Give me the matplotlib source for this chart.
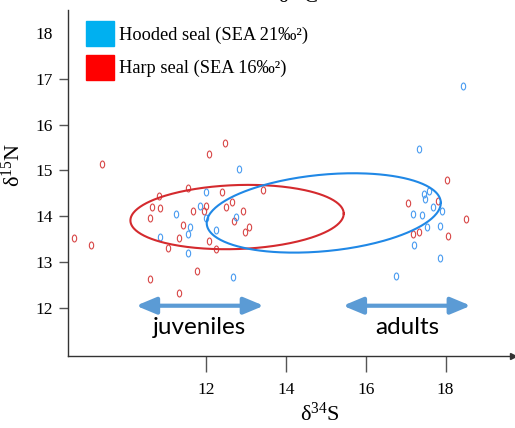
import numpy as np
import matplotlib
matplotlib.use("Agg")
import matplotlib.pyplot as plt
from matplotlib.path import Path
from matplotlib.patches import Patch, ArrowStyle

plt.rcParams['font.family'] = ['Liberation Serif', 'DejaVu Serif']
plt.rcParams['mathtext.fontset'] = 'custom'
plt.rcParams['mathtext.rm'] = 'Liberation Serif'
plt.rcParams['mathtext.it'] = 'Liberation Serif:italic'

# harp seal samples (d34S, d15N)
harp_s = [9.41, 8.70, 9.12, 10.61, 11.33, 11.78, 10.83, 10.66, 10.86, 10.61,
          11.54, 11.67, 11.43, 11.33, 11.05, 12.49, 12.07, 12.41, 13.44, 12.66,
          12.51, 12.93, 12.01, 11.94, 12.70, 13.09, 12.98, 12.08, 12.26,
          18.03, 17.07, 17.82, 18.50, 17.33, 17.18, 18.05]
harp_n = [15.14, 13.52, 13.37, 12.63, 12.32, 12.79, 14.43, 14.20, 14.18, 13.96,
          14.61, 14.12, 13.80, 13.53, 13.30, 15.61, 15.35, 14.53, 14.58, 14.31,
          14.20, 14.12, 14.23, 14.12, 13.90, 13.77, 13.66, 13.46, 13.28,
          14.79, 14.29, 14.33, 13.93, 13.66, 13.61, 13.56]

# hooded seal samples
hood_s = [12.82, 11.99, 11.85, 11.26, 12.01, 12.75, 11.60, 12.26, 11.56, 10.86,
          11.56, 12.69,
          18.43, 17.33, 16.75, 17.87, 17.20, 17.58, 17.47, 17.48, 17.69, 17.90,
          17.18, 17.42, 17.86, 17.54]
hood_n = [15.04, 14.53, 14.23, 14.05, 13.96, 13.98, 13.76, 13.70, 13.61, 13.55,
          13.20, 12.67,
          16.85, 15.47, 12.70, 13.09, 13.37, 14.54, 14.48, 14.38, 14.20, 14.12,
          14.05, 14.02, 13.78, 13.76]

# SEA ellipses: centre x, centre y, half width, half height, tilt
harp_ell = [12.78, 13.98, 2.67, 0.70, 0.028]
hood_ell = [14.95, 14.07, 2.93, 0.84, 0.075]

legend_labels = ['Hooded seal (SEA 21‰²)', 'Harp seal (SEA 16‰²)']
group_labels = ['juveniles', 'adults']
group_ranges = [(10.25, 13.45), (15.43, 18.63)]
group_y = 12.04

fig = plt.figure(figsize=(5.15, 4.28), dpi=100)
ax = fig.add_axes([67.7/515, 72/428, 445/515, 346/428])
ax.set_xlim(8.54, 19.68)
ax.set_ylim(10.94, 18.51)

circ = Path.unit_circle()
oval = Path(circ.vertices * [0.62, 1.0], circ.codes)

ax.plot(harp_s, harp_n, ls='none', marker=oval, ms=5, mfc='none',
        mec='#d84848', mew=0.8)
ax.plot(hood_s, hood_n, ls='none', marker=oval, ms=5, mfc='none',
        mec='#4a9cf0', mew=0.8)

t = np.linspace(0, 2*np.pi, 300)
for (cx, cy, a, b, k), col in [(harp_ell, '#d42a2e'), (hood_ell, '#2088e6')]:
    ax.plot(cx + a*np.cos(t), cy + k*a*np.cos(t) + b*np.sin(t), color=col, lw=1.5)

for lab, (x0, x1) in zip(group_labels, group_ranges):
    ax.annotate('', xy=(x1, group_y), xytext=(x0, group_y),
                arrowprops=dict(arrowstyle=ArrowStyle('<|-|>', head_length=1.2, head_width=0.5),
                                mutation_scale=10, color='#5b9bd5', lw=3.0,
                                shrinkA=0, shrinkB=0))
    ax.text((x0 + x1)/2, group_y - 0.24, lab, ha='center', va='top',
            fontsize=17.5, family=['Lato', 'DejaVu Sans'])

ax.spines['top'].set_visible(False)
ax.spines['right'].set_visible(False)
for sp in ['left', 'bottom']:
    ax.spines[sp].set_color('#333333')
    ax.spines[sp].set_linewidth(1.0)
ax.plot(1, 0, marker='>', ms=5, color='#333333', transform=ax.transAxes, clip_on=False)

ax.set_xticks([12, 14, 16, 18])
ax.set_yticks([12, 13, 14, 15, 16, 17, 18])
ax.tick_params(axis='x', direction='out', length=11.5, width=1.0, pad=7,
               labelsize=12.5, color='#555555')
ax.tick_params(axis='y', direction='out', length=6.5, width=1.0, pad=4,
               labelsize=12.5, color='#555555')
ax.yaxis.get_major_ticks()[-1].tick1line.set_visible(False)

ax.set_xlabel('δ$^{34}$S', fontsize=16)
ax.set_ylabel('δ$^{15}$N', fontsize=16)
ax.xaxis.set_label_coords(0.567, -0.135)
ax.yaxis.set_label_coords(-0.097, 0.552)

handles = [Patch(color='#00b0f0'), Patch(color='#ff0000')]
ax.legend(handles, legend_labels, loc='upper left', frameon=False,
          bbox_to_anchor=(86/515, 1 - 21/428), bbox_transform=fig.transFigure,
          borderpad=0, borderaxespad=0, fontsize=13.2, handlelength=1.5,
          handleheight=1.75, handletextpad=0.3, labelspacing=0.45)

fig.text(298/515, 1 - 3/428, 'δ$^{13}$C', ha='center', va='baseline', fontsize=15)

fig.savefig('out.png', dpi=100)
